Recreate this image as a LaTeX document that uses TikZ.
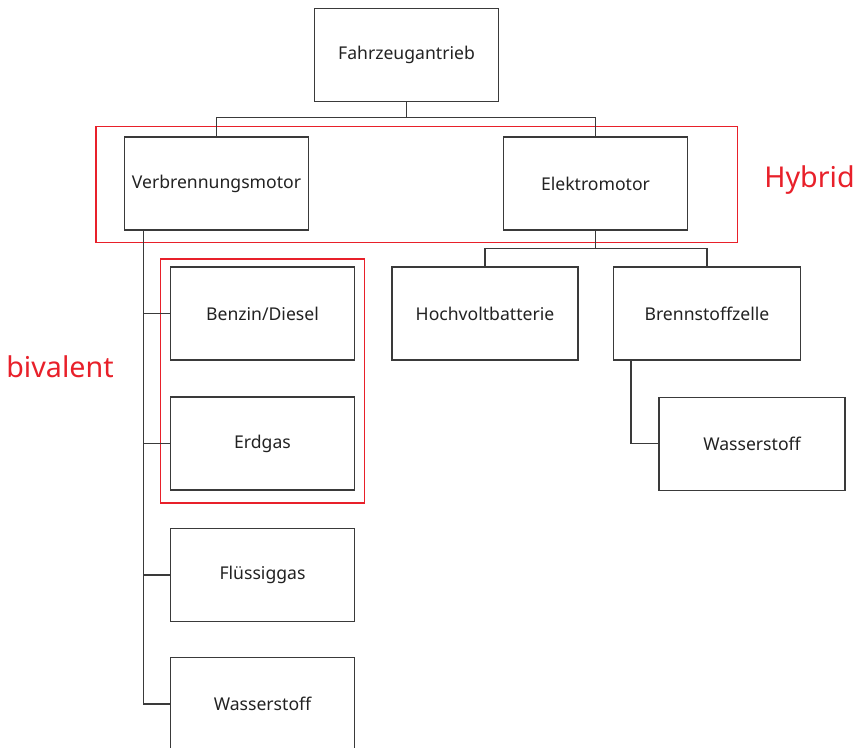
\documentclass[tikz,border=0pt]{standalone}
\usepackage{fontspec}
\setmainfont{Noto Sans}
\definecolor{linegray}{HTML}{3A3A3A}
\definecolor{txtgray}{HTML}{222222}
\definecolor{hlred}{HTML}{E8202A}
\begin{document}
\begin{tikzpicture}[x=0.75pt,y=-0.75pt,
  box/.style={draw=linegray,line width=0.9pt,rectangle,minimum width=184*0.75pt,minimum height=93*0.75pt,inner sep=0pt,font=\fontsize{13.2pt}{15pt}\selectfont,text=txtgray},
  conn/.style={draw=linegray,line width=0.85pt},
  redframe/.style={draw=hlred,line width=1.3pt},
  redlabel/.style={text=hlred,font=\fontsize{21.5pt}{25pt}\selectfont,inner sep=0pt}]
\useasboundingbox (0,0) rectangle (864,748);
% red frames
\draw[redframe] (96,126.5) rectangle (737.5,242.5);
\draw[redframe] (160.5,259) rectangle (364.5,503);
% boxes
\node[box] (fa) at (406.5,55) {Fahrzeugantrieb};
\node[box] (vm) at (216.5,183.5) {Verbrennungsmotor};
\node[box] (em) at (595.5,183.5) {Elektromotor};
\node[box] (bd) at (262.5,313.5) {Benzin/Diesel};
\node[box] (eg) at (262.5,443.5) {Erdgas};
\node[box] (fg) at (262.5,575) {Flüssiggas};
\node[box] (wl) at (262.5,704) {Wasserstoff};
\node[box,minimum width=186*0.75pt] (hv) at (485,313.5) {Hochvoltbatterie};
\node[box,minimum width=187*0.75pt] (bz) at (707,313.5) {Brennstoffzelle};
\node[box,minimum width=186*0.75pt] (wr) at (752,443.7) {Wasserstoff};
% labels
\node[redlabel] (hyb) at (809.5,180) {Hybrid};
\node[redlabel] (biv) at (60,367) {bivalent};
% connectors
\coordinate (j1) at (406.5,117.5);
\coordinate (j2) at (595.5,248.5);
\coordinate (vl) at (143.5,229.5);
\coordinate (bl) at (631,360.5);
\draw[conn] (fa.south) -- (j1);
\draw[conn] (vm.north) |- (j1) -| (em.north);
\draw[conn] (em.south) -- (j2);
\draw[conn] (hv.north) |- (j2) -| (bz.north);
\draw[conn] (vl) |- (wl.west);
\draw[conn] (vl |- bd.west) -- (bd.west);
\draw[conn] (vl |- eg.west) -- (eg.west);
\draw[conn] (vl |- fg.west) -- (fg.west);
\draw[conn] (bl) |- (wr.west);
\end{tikzpicture}
\end{document}
